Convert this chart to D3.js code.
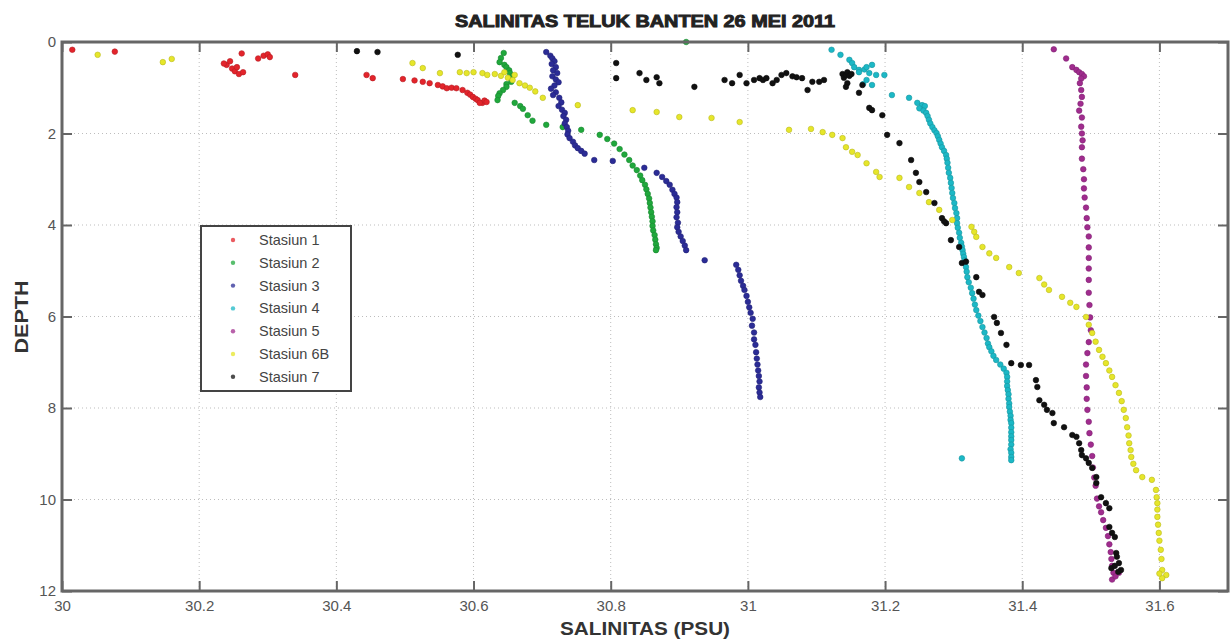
<!DOCTYPE html>
<html>
<head>
<meta charset="utf-8">
<script src="https://cdn.jsdelivr.net/npm/d3@7"></script>
<style>
  html, body { margin: 0; padding: 0; background: #fff; }
  svg { display: block; font-family: "Liberation Sans", Arial, sans-serif; }
</style>
</head>
<body>
<svg id="chart" width="1232" height="642"></svg>
<script>
// Salinity (PSU) vs depth (m) profiles, Teluk Banten, 26 May 2011
const title = "SALINITAS TELUK BANTEN 26 MEI 2011";
const xLabel = "SALINITAS (PSU)";
const yLabel = "DEPTH";
const salinityTicks = [30, 30.2, 30.4, 30.6, 30.8, 31, 31.2, 31.4, 31.6];
const depthTicks = [0, 2, 4, 6, 8, 10, 12];
const stationNames = ["Stasiun 1", "Stasiun 2", "Stasiun 3", "Stasiun 4", "Stasiun 5", "Stasiun 6B", "Stasiun 7"];

// each entry: [salinity, depth]
const stasiun1 = [[30.015,0.17],[30.077,0.21],[30.24,0.50],[30.245,0.42],[30.248,0.58],[30.252,0.64],[30.258,0.70],[30.255,0.55],[30.262,0.25],[30.264,0.66],[30.236,0.47],[30.286,0.36],[30.294,0.30],[30.300,0.27],[30.303,0.33],[30.34,0.72],[30.444,0.72],[30.453,0.79],[30.497,0.81],[30.514,0.84],[30.526,0.87],[30.536,0.90],[30.548,0.94],[30.555,0.97],[30.561,1.01],[30.568,1.00],[30.575,1.01],[30.584,1.05],[30.591,1.11],[30.595,1.15],[30.599,1.20],[30.603,1.24],[30.606,1.27],[30.613,1.33],[30.616,1.28],[30.619,1.31],[30.609,1.33]];
const stasiun2 = [[30.91,0.0],[30.644,0.24],[30.640,0.35],[30.638,0.44],[30.645,0.50],[30.648,0.55],[30.652,0.62],[30.653,0.68],[30.657,0.74],[30.655,0.80],[30.655,0.87],[30.648,0.92],[30.648,0.98],[30.643,1.05],[30.638,1.12],[30.636,1.18],[30.635,1.27],[30.660,1.33],[30.668,1.40],[30.672,1.46],[30.679,1.60],[30.686,1.72],[30.706,1.81],[30.730,1.86],[30.757,1.92],[30.784,2.03],[30.795,2.12],[30.805,2.22],[30.813,2.34],[30.820,2.46],[30.827,2.58],[30.832,2.70],[30.838,2.80],[30.843,2.92],[30.846,3.02],[30.850,3.12],[30.852,3.22],[30.854,3.32],[30.856,3.42],[30.857,3.52],[30.858,3.62],[30.859,3.72],[30.860,3.82],[30.861,3.92],[30.861,4.02],[30.862,4.12],[30.864,4.22],[30.865,4.32],[30.866,4.42],[30.867,4.50],[30.866,4.55]];
const stasiun3 = [[30.706,0.22],[30.712,0.30],[30.715,0.36],[30.718,0.42],[30.714,0.48],[30.720,0.55],[30.716,0.62],[30.722,0.68],[30.715,0.75],[30.720,0.82],[30.724,0.88],[30.718,0.95],[30.713,1.02],[30.720,1.10],[30.716,1.16],[30.725,1.22],[30.728,1.32],[30.724,1.40],[30.729,1.48],[30.733,1.55],[30.731,1.62],[30.735,1.70],[30.733,1.78],[30.736,1.86],[30.738,1.94],[30.737,2.02],[30.740,2.10],[30.745,2.18],[30.748,2.26],[30.752,2.32],[30.757,2.38],[30.762,2.44],[30.776,2.58],[30.803,2.60],[30.849,2.75],[30.867,2.86],[30.875,2.95],[30.881,3.04],[30.886,3.12],[30.890,3.23],[30.893,3.32],[30.896,3.40],[30.897,3.50],[30.896,3.61],[30.897,3.72],[30.896,3.83],[30.898,3.95],[30.897,4.05],[30.899,4.15],[30.902,4.25],[30.905,4.35],[30.908,4.45],[30.910,4.55],[30.937,4.77],[30.983,4.87],[30.986,4.98],[30.988,5.10],[30.990,5.22],[30.993,5.33],[30.995,5.42],[30.998,5.55],[31.000,5.68],[31.002,5.80],[31.004,5.92],[31.007,6.05],[31.006,6.20],[31.009,6.35],[31.009,6.50],[31.011,6.62],[31.012,6.78],[31.013,6.92],[31.014,7.05],[31.015,7.18],[31.016,7.30],[31.017,7.42],[31.016,7.55],[31.017,7.66],[31.018,7.76]];
const stasiun4 = [[31.122,0.17],[31.135,0.28],[31.148,0.39],[31.152,0.46],[31.155,0.55],[31.162,0.61],[31.162,0.66],[31.170,0.60],[31.173,0.55],[31.181,0.50],[31.177,0.68],[31.187,0.72],[31.199,0.72],[31.173,0.83],[31.181,0.94],[31.168,0.92],[31.210,1.16],[31.235,1.22],[31.247,1.33],[31.254,1.38],[31.250,1.45],[31.258,1.40],[31.256,1.50],
  [31.260,1.55],[31.262,1.62],[31.264,1.70],[31.266,1.78],[31.269,1.86],[31.272,1.93],[31.275,1.99],[31.277,2.06],[31.279,2.14],[31.281,2.22],[31.283,2.30],[31.286,2.38],[31.289,2.47],[31.290,2.55],[31.291,2.64],[31.292,2.75],[31.293,2.86],[31.295,2.97],[31.296,3.08],[31.297,3.19],[31.298,3.30],[31.299,3.41],[31.301,3.52],[31.302,3.63],[31.304,3.74],[31.305,3.85],[31.305,3.96],[31.306,4.06],[31.308,4.17],[31.309,4.28],[31.311,4.39],[31.312,4.47],[31.313,4.55],[31.314,4.63],[31.315,4.70],[31.316,4.77],[31.317,4.83],[31.318,4.92],[31.319,5.02],[31.320,5.14],[31.322,5.25],[31.325,5.37],[31.327,5.49],[31.329,5.61],[31.331,5.74],[31.333,5.86],[31.336,5.98],[31.339,6.10],[31.342,6.23],[31.345,6.35],[31.348,6.47],[31.350,6.59],[31.352,6.67],[31.355,6.76],[31.358,6.86],[31.362,6.95],[31.368,7.05],[31.373,7.14],[31.377,7.23],[31.378,7.32],[31.378,7.42],[31.378,7.52],[31.379,7.61],[31.380,7.70],[31.380,7.80],[31.381,7.90],[31.381,7.98],[31.382,8.08],[31.383,8.17],[31.383,8.26],[31.384,8.33],[31.384,8.43],[31.384,8.53],[31.384,8.62],[31.384,8.70],[31.384,8.80],[31.383,8.90],[31.384,8.98],[31.384,9.07],[31.384,9.14],[31.312,9.10]];
const stasiun5 = [[31.446,0.16],[31.464,0.36],[31.473,0.55],[31.479,0.61],[31.483,0.66],[31.487,0.70],[31.490,0.75],[31.486,0.80],[31.484,0.90],[31.486,1.05],[31.487,1.20],[31.485,1.35],[31.483,1.50],[31.487,1.65],[31.486,1.85],[31.487,2.00],[31.488,2.15],[31.487,2.30],[31.487,2.55],[31.489,2.78],[31.490,3.00],[31.490,3.20],[31.491,3.40],[31.493,3.62],[31.494,3.85],[31.495,4.05],[31.497,4.25],[31.497,4.49],[31.497,4.72],[31.497,4.95],[31.497,5.20],[31.497,5.48],[31.498,5.75],[31.499,6.02],[31.500,6.30],[31.497,6.56],[31.495,6.80],[31.493,7.05],[31.493,7.30],[31.494,7.55],[31.494,7.80],[31.495,8.04],[31.497,8.30],[31.498,8.55],[31.500,8.80],[31.502,9.05],[31.503,9.30],[31.505,9.52],[31.507,9.70],[31.509,9.98],[31.512,10.15],[31.515,10.28],[31.518,10.45],[31.522,10.62],[31.525,10.80],[31.527,10.98],[31.529,11.15],[31.530,11.30],[31.531,11.45],[31.533,11.60],[31.531,11.75],[31.541,11.60],[31.536,11.68]];
const stasiun6B = [[30.052,0.28],[30.147,0.44],[30.160,0.37],[30.511,0.46],[30.526,0.57],[30.551,0.68],[30.580,0.66],[30.590,0.68],[30.600,0.66],[30.613,0.68],[30.620,0.72],[30.631,0.70],[30.640,0.74],[30.645,0.66],[30.650,0.78],[30.657,0.83],[30.660,0.72],[30.667,0.90],[30.675,0.95],[30.682,1.00],[30.690,1.08],[30.701,1.22],[30.752,1.38],[30.832,1.49],[30.867,1.53],[30.900,1.64],[30.947,1.66],[30.988,1.75],[31.060,1.92],[31.092,1.90],[31.109,1.97],[31.123,2.03],[31.138,2.10],[31.143,2.30],[31.152,2.40],[31.160,2.47],[31.173,2.65],[31.187,2.84],[31.192,2.95],[31.221,2.97],[31.235,3.17],[31.250,3.30],[31.264,3.50],[31.279,3.67],[31.298,3.89],[31.326,4.04],[31.330,4.15],[31.333,4.26],[31.342,4.48],[31.352,4.62],[31.362,4.72],[31.381,4.92],[31.395,5.05],[31.425,5.16],[31.432,5.30],[31.439,5.42],[31.458,5.57],[31.470,5.70],[31.479,5.79],[31.493,6.01],[31.497,6.18],[31.502,6.36],[31.507,6.55],[31.512,6.73],[31.517,6.88],[31.522,7.02],[31.527,7.18],[31.531,7.32],[31.536,7.50],[31.541,7.67],[31.545,7.85],[31.548,8.04],[31.551,8.22],[31.553,8.42],[31.555,8.60],[31.556,8.77],[31.558,8.92],[31.559,9.07],[31.562,9.22],[31.566,9.36],[31.575,9.51],[31.589,9.57],[31.595,9.79],[31.596,9.95],[31.597,10.08],[31.597,10.22],[31.597,10.38],[31.598,10.55],[31.599,10.73],[31.600,10.90],[31.602,11.10],[31.603,11.30],[31.604,11.54],[31.610,11.65],[31.604,11.72],[31.600,11.62]];
const stasiun7 = [[30.430,0.20],[30.460,0.22],[30.577,0.28],[30.808,0.46],[30.808,0.79],[30.842,0.68],[30.852,0.83],[30.867,0.77],[30.871,0.90],[30.922,0.98],[30.966,0.83],[30.977,0.90],[30.988,0.72],[30.998,0.90],[31.009,0.83],[31.017,0.79],[31.022,0.83],[31.027,0.79],[31.036,0.90],[31.042,0.83],[31.049,0.72],[31.056,0.68],[31.065,0.75],[31.071,0.77],[31.079,0.79],[31.087,1.05],[31.094,0.87],[31.104,0.87],[31.111,0.83],[31.138,0.70],[31.140,0.78],[31.143,0.72],[31.145,0.66],[31.148,0.74],[31.151,0.70],[31.145,0.90],[31.143,0.98],[31.162,1.11],[31.167,0.94],[31.177,1.44],[31.181,1.49],[31.196,1.60],[31.203,2.03],[31.221,2.21],[31.238,2.58],[31.245,2.86],[31.250,3.06],[31.260,3.28],[31.272,3.52],[31.283,3.85],[31.289,3.96],[31.286,3.92],[31.296,4.33],[31.308,4.48],[31.312,4.83],[31.318,4.80],[31.333,5.14],[31.337,5.46],[31.342,5.53],[31.359,6.01],[31.363,6.14],[31.369,6.36],[31.377,6.62],[31.384,7.02],[31.398,7.06],[31.410,7.06],[31.420,7.39],[31.422,7.54],[31.425,7.83],[31.432,7.93],[31.436,8.04],[31.444,8.11],[31.446,8.33],[31.461,8.42],[31.473,8.59],[31.479,8.63],[31.483,8.77],[31.486,8.92],[31.487,9.03],[31.493,9.10],[31.497,9.20],[31.502,9.31],[31.508,9.51],[31.508,9.64],[31.515,9.95],[31.522,10.08],[31.527,10.19],[31.527,10.60],[31.531,10.73],[31.535,10.82],[31.537,11.17],[31.538,11.25],[31.541,11.39],[31.544,11.54],[31.540,11.58],[31.530,11.50],[31.535,11.45]];

const stations = [stasiun1, stasiun2, stasiun3, stasiun4, stasiun5, stasiun6B, stasiun7];
const colors = ["#e3242b", "#20a83c", "#2b2c96", "#1cb8c6", "#a02c8e", "#e6e62a", "#111111"];

const svg = d3.select("#chart");
const plot = { left: 62, right: 1228, top: 42, bottom: 591 };

const x = d3.scaleLinear().domain([30, 31.7]).range([plot.left, plot.right]);
const y = d3.scaleLinear().domain([0, 12]).range([plot.top, plot.bottom]);

const frameColor = "#666666";

// dotted grid
const grid = svg.append("g").attr("stroke", "#bdbdbd").attr("stroke-width", 1).attr("stroke-dasharray", "1,3");
grid.selectAll(".gx").data(salinityTicks.filter(t => t > 30))
  .join("line").attr("x1", d => x(d)).attr("x2", d => x(d)).attr("y1", plot.top).attr("y2", plot.bottom);
grid.selectAll(".gy").data(depthTicks.filter(t => t > 0 && t < 12))
  .join("line").attr("y1", d => y(d)).attr("y2", d => y(d)).attr("x1", plot.left).attr("x2", plot.right);

// data points, drawn in station order
const marks = svg.append("g");
stations.forEach((pts, i) => {
  marks.append("g")
    .selectAll("circle")
    .data(pts)
    .join("circle")
    .attr("cx", d => x(d[0]))
    .attr("cy", d => y(d[1]))
    .attr("r", 2.8)
    .attr("fill", colors[i])
    .attr("stroke", d3.color(colors[i]).darker(0.6))
    .attr("stroke-width", 0.6);
});

// axes with inward ticks on all four sides
function styleAxis(g) {
  g.select(".domain").remove();
  g.selectAll(".tick line").attr("stroke", frameColor).attr("stroke-width", 2);
  g.selectAll(".tick text").attr("fill", "#555").attr("font-size", 15);
}
svg.append("g").attr("transform", `translate(0,${plot.bottom})`)
  .call(d3.axisBottom(x).tickValues(salinityTicks).tickFormat(d3.format("~g")).tickSizeInner(-10).tickSizeOuter(0).tickPadding(9))
  .call(styleAxis);
svg.append("g").attr("transform", `translate(0,${plot.top})`)
  .call(d3.axisTop(x).tickValues(salinityTicks).tickFormat("").tickSizeInner(-10).tickSizeOuter(0))
  .call(styleAxis);
svg.append("g").attr("transform", `translate(${plot.left},0)`)
  .call(d3.axisLeft(y).tickValues(depthTicks).tickFormat(d3.format("d")).tickSizeInner(-10).tickSizeOuter(0).tickPadding(6))
  .call(styleAxis);
svg.append("g").attr("transform", `translate(${plot.right},0)`)
  .call(d3.axisRight(y).tickValues(depthTicks).tickFormat("").tickSizeInner(-10).tickSizeOuter(0))
  .call(styleAxis);

// frame
svg.append("rect")
  .attr("x", plot.left).attr("y", plot.top)
  .attr("width", plot.right - plot.left).attr("height", plot.bottom - plot.top)
  .attr("fill", "none").attr("stroke", frameColor).attr("stroke-width", 3);

// titles
svg.append("text").attr("x", 645).attr("y", 27).attr("text-anchor", "middle")
  .attr("font-size", 16).attr("font-weight", "bold").attr("fill", "#222")
  .attr("stroke", "#222").attr("stroke-width", 0.9)
  .attr("textLength", 380).attr("lengthAdjust", "spacingAndGlyphs")
  .text(title);
svg.append("text").attr("x", 645).attr("y", 635).attr("text-anchor", "middle")
  .attr("font-size", 18).attr("font-weight", "bold").attr("fill", "#333")
  .attr("textLength", 170).attr("lengthAdjust", "spacingAndGlyphs")
  .text(xLabel);
svg.append("text").attr("transform", "translate(28,317) rotate(-90)").attr("text-anchor", "middle")
  .attr("font-size", 18).attr("font-weight", "bold").attr("fill", "#333")
  .attr("textLength", 73).attr("lengthAdjust", "spacingAndGlyphs")
  .text(yLabel);

// legend
const legend = svg.append("g").attr("transform", "translate(201,226)");
legend.append("rect").attr("width", 150).attr("height", 165)
  .attr("fill", "#fff").attr("stroke", "#444").attr("stroke-width", 2);
const rows = legend.selectAll("g.row").data(stationNames).join("g")
  .attr("transform", (d, i) => `translate(0,${14 + i * 22.8})`);
rows.append("circle").attr("cx", 32).attr("cy", 0).attr("r", 2.2)
  .attr("fill", (d, i) => colors[i]).attr("opacity", 0.75);
rows.append("text").attr("x", 58).attr("y", 0).attr("dy", "0.35em")
  .attr("font-size", 14.5).attr("fill", "#444").text(d => d);
</script>
</body>
</html>
